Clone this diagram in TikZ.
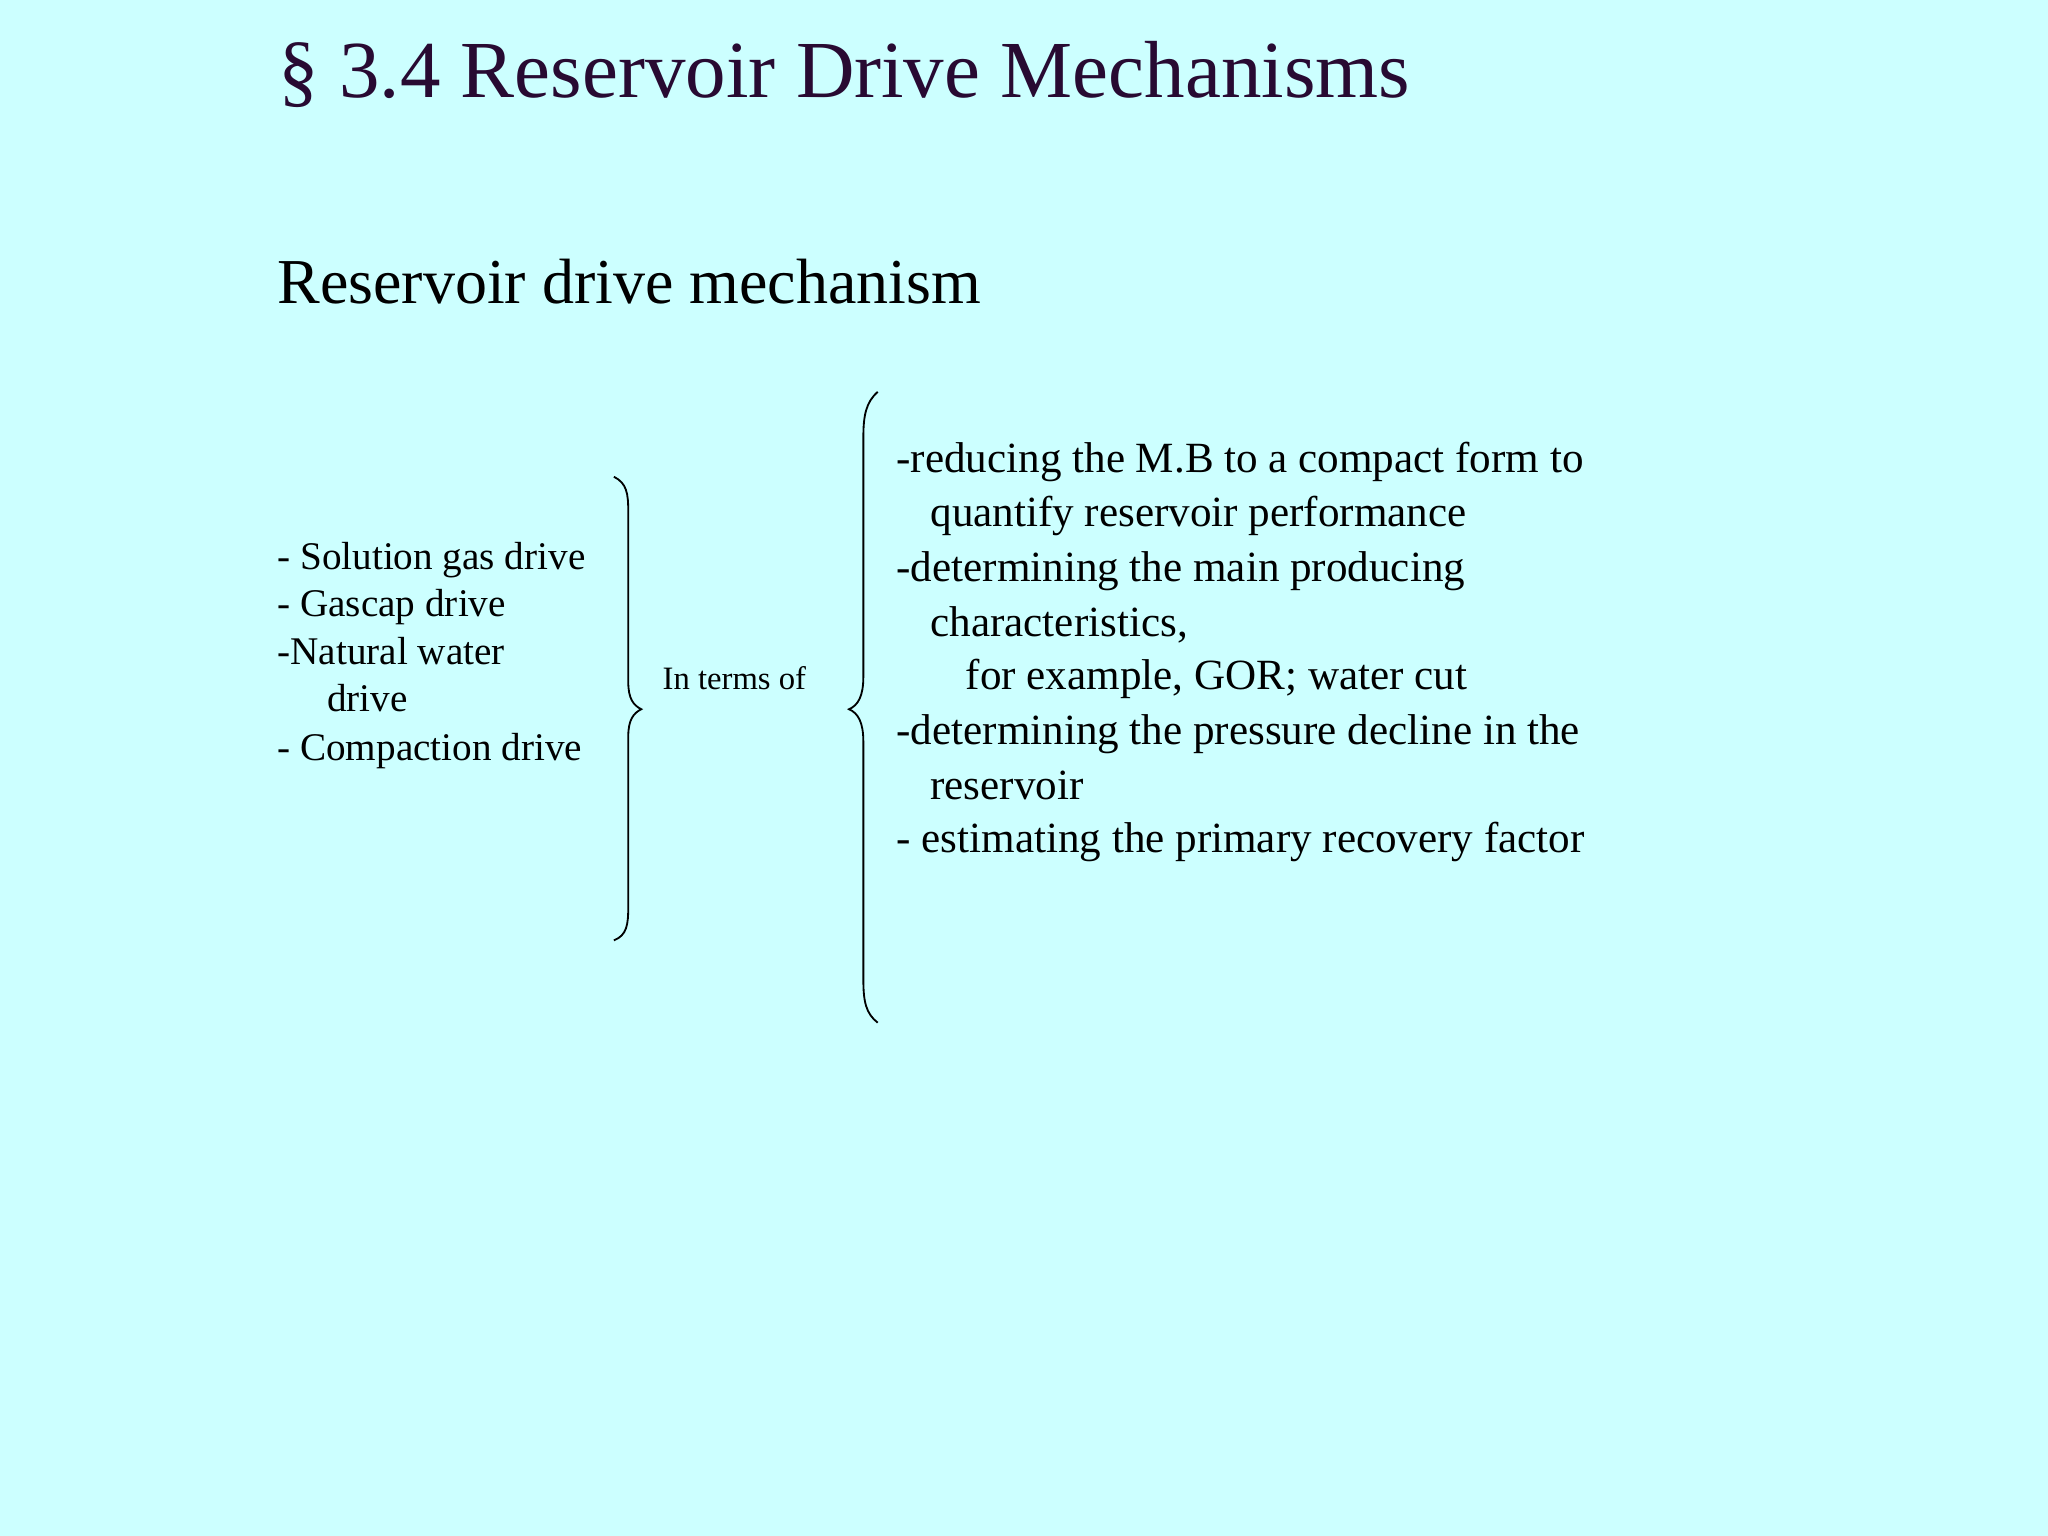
\documentclass[tikz,border=0pt]{standalone}
\usepackage{fontspec}
\setmainfont{Liberation Serif}
\begin{document}
\begin{tikzpicture}[x=0.5pt,y=-0.5pt,
  tl/.style={anchor=base west,inner sep=0pt,font=\fontsize{#1}{#1}\selectfont},
  br/.style={draw=black,line width=0.7pt}]
\fill[fill={rgb,255:red,204;green,255;blue,255}] (0,0) rectangle (1568,1176);
\useasboundingbox (0,0) rectangle (1568,1176);
\node[tl=31,text={rgb,255:red,40;green,10;blue,50}] (title) at (213,75) {§ 3.4 Reservoir Drive Mechanisms};
\node[tl=24.5] (sub) at (212,232) {Reservoir drive mechanism};
\node[tl=15] (l1) at (212,436) {- Solution gas drive};
\node[tl=15] (l2) at (212,472) {- Gascap drive};
\node[tl=15] (l3) at (212,509) {-Natural water};
\node[tl=15] (l4) at (250,545) {drive};
\node[tl=15] (l5) at (212,582) {- Compaction drive};
\node[tl=12.5] (mid) at (507,528) {In terms of};
\node[tl=16.5] (r1) at (686,362) {-reducing the M.B to a compact form to};
\node[tl=16.5] (r2) at (712,403) {quantify reservoir performance};
\node[tl=16.5] (r3) at (686,445) {-determining the main producing};
\node[tl=16.5] (r4) at (712,487) {characteristics,};
\node[tl=16.5] (r5) at (739,528) {for example, GOR; water cut};
\node[tl=16.5] (r6) at (686,570) {-determining the pressure decline in the};
\node[tl=16.5] (r7) at (712,612) {reservoir};
\node[tl=16.5] (r8) at (686,653) {- estimating the primary recovery factor};
\draw[br] (470,365) .. controls (480,370) and (481,378) .. (481,392) -- (481,522)
  .. controls (481,535) and (485,540) .. (491,543)
  .. controls (485,546) and (481,551) .. (481,564) -- (481,694)
  .. controls (481,708) and (480,716) .. (470,720);
\draw[br] (672,300) .. controls (663,308) and (661,318) .. (661,335) -- (661,518)
  .. controls (661,533) and (657,540) .. (650,543)
  .. controls (657,546) and (661,553) .. (661,568) -- (661,750)
  .. controls (661,767) and (663,776) .. (672,783);
\end{tikzpicture}
\end{document}
